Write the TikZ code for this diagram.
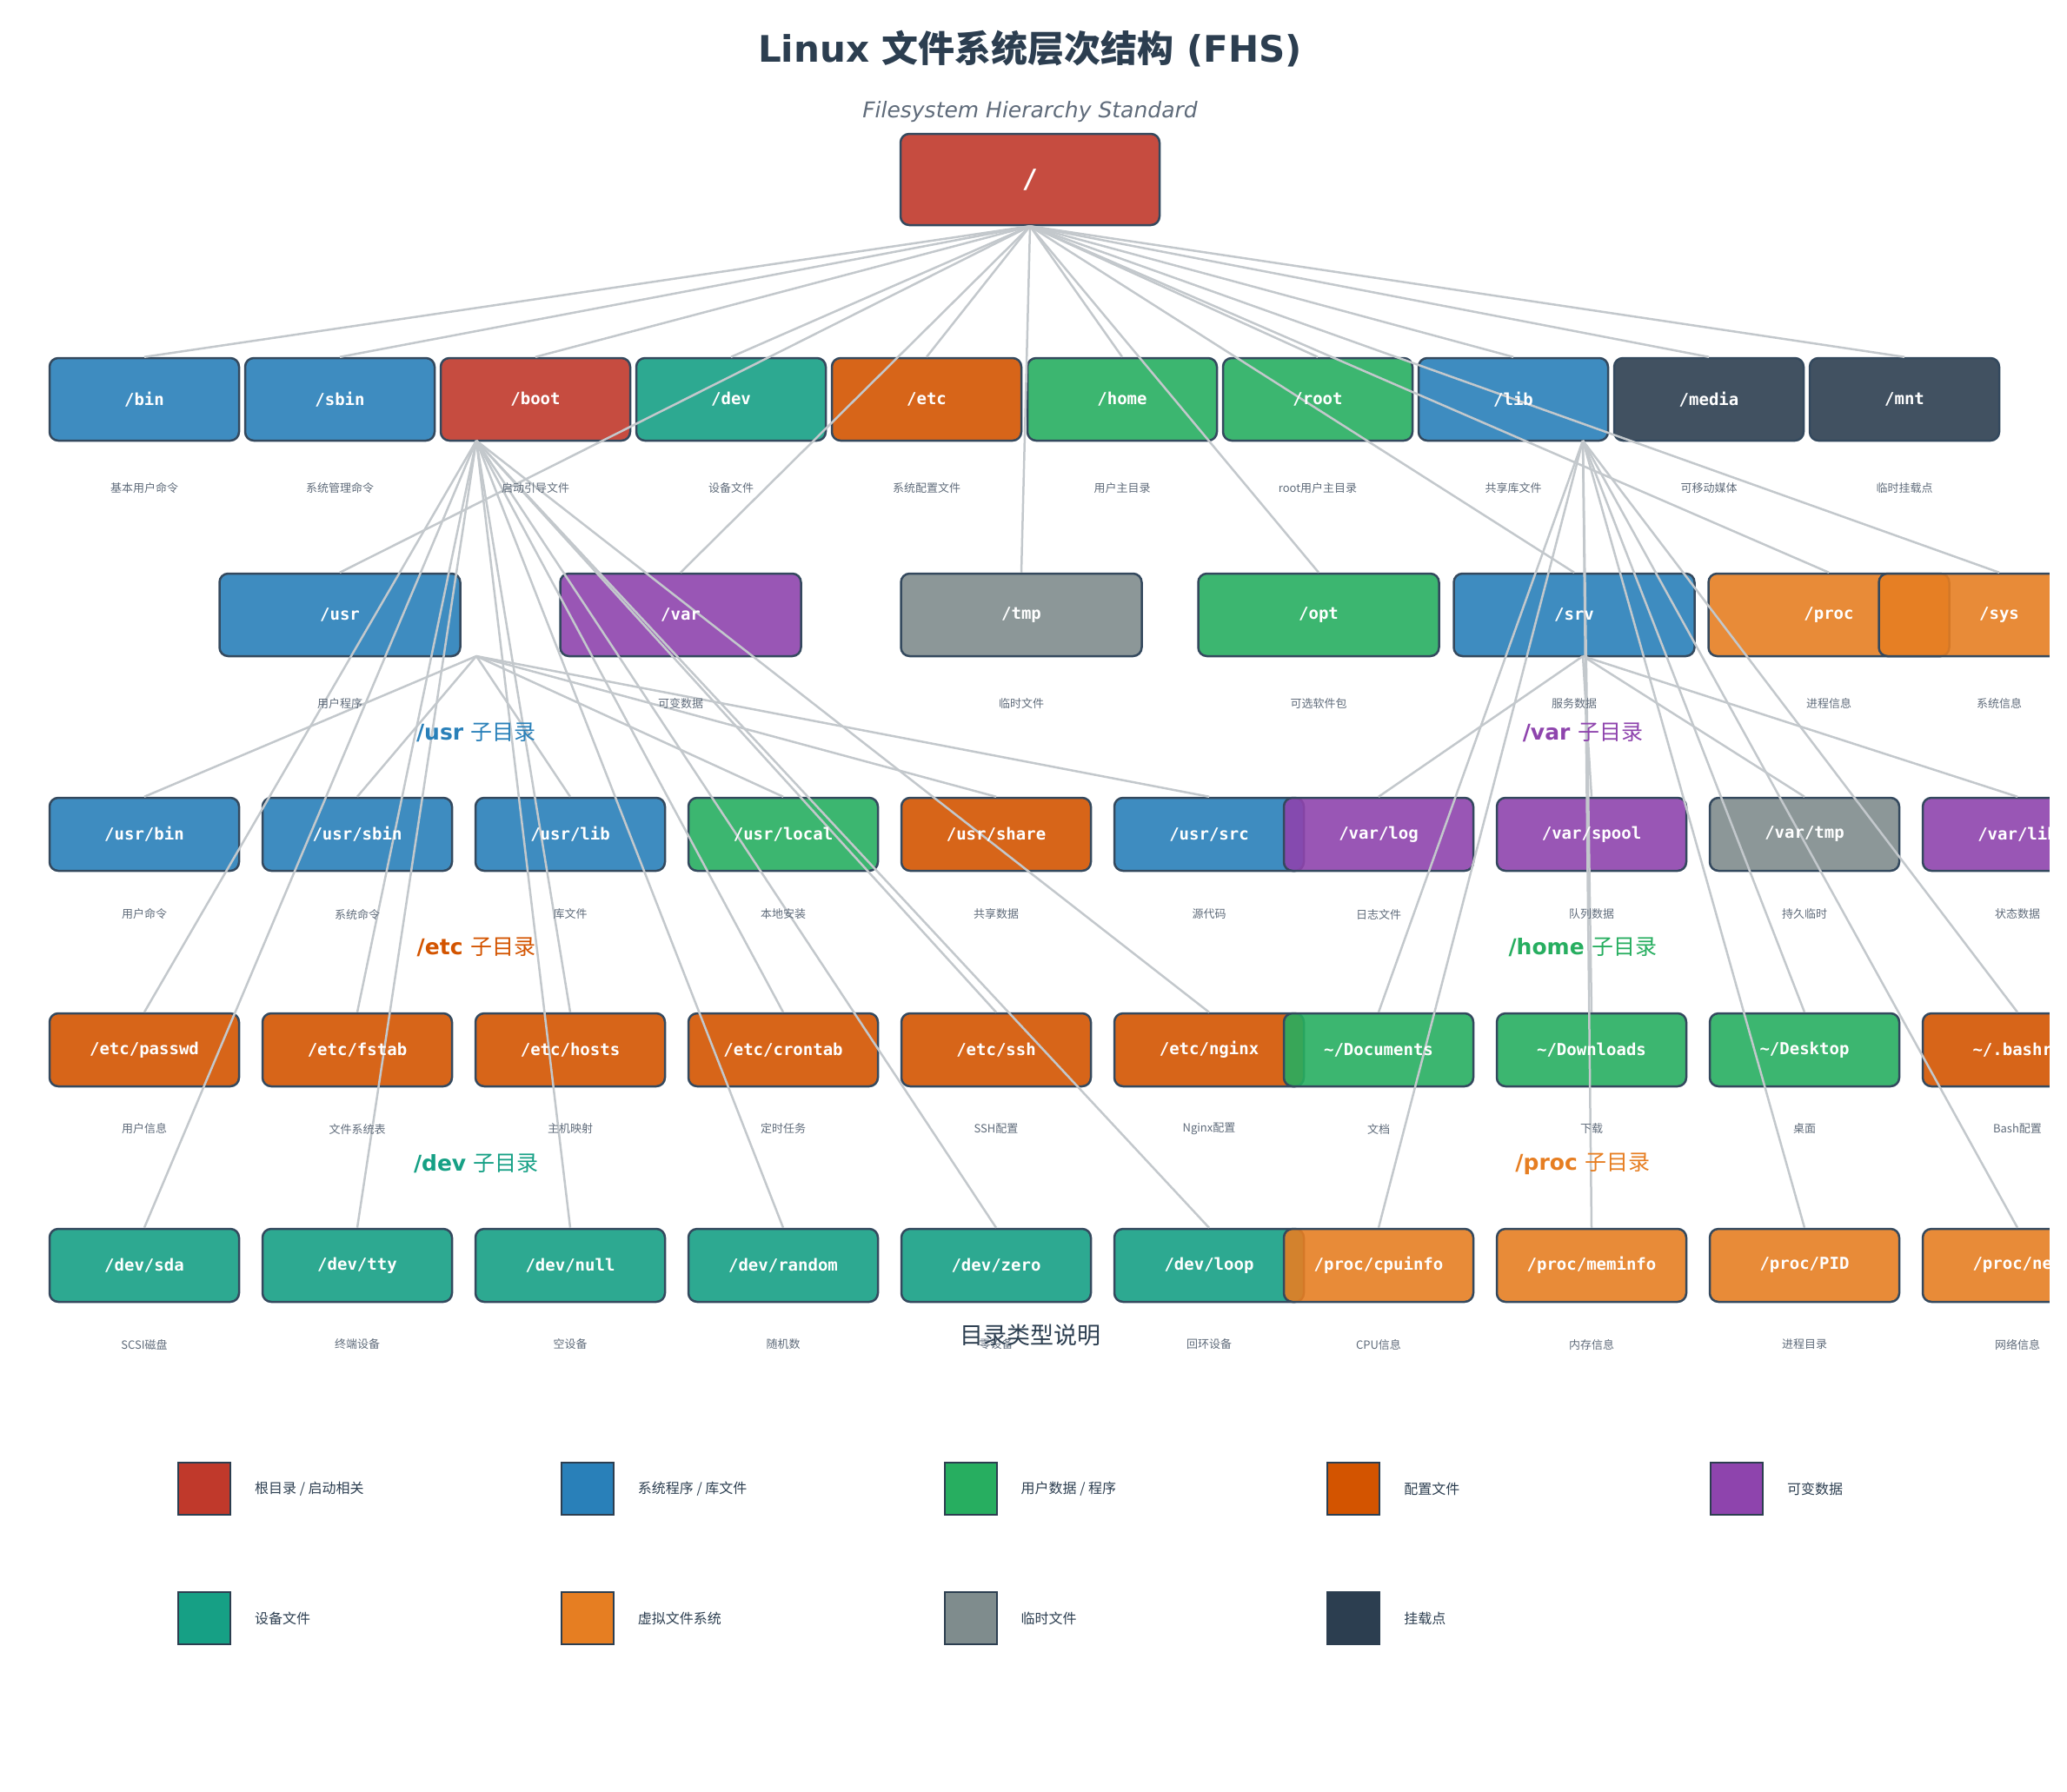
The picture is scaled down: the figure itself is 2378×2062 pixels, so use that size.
\documentclass[tikz,border=0pt]{standalone}
\usepackage{fontspec}
\setmainfont{DejaVu Sans}
\newfontfamily\monofont{DejaVu Sans Mono}
\newfontfamily\cjk{Noto Sans CJK SC}
\definecolor{cRed}{HTML}{C0392B}
\definecolor{cBlue}{HTML}{2980B9}
\definecolor{cGreen}{HTML}{27AE60}
\definecolor{cPump}{HTML}{D35400}
\definecolor{cPurple}{HTML}{8E44AD}
\definecolor{cTeal}{HTML}{16A085}
\definecolor{cOrange}{HTML}{E67E22}
\definecolor{cGray}{HTML}{7F8C8D}
\definecolor{cDark}{HTML}{2C3E50}
\definecolor{cBorder}{HTML}{34495E}
\definecolor{cLine}{HTML}{C3C8CC}
\definecolor{cDesc}{HTML}{5F6B7A}
\pgfdeclarelayer{boxes}
\pgfdeclarelayer{lines}
\pgfsetlayers{boxes,lines,main}
\tikzset{
  fsbox/.style={draw=cBorder, line width=2.5pt, rounded corners=10pt, fill opacity=0.9, inner sep=0pt},
  fstext/.style={text=white, font={\monofont\bfseries\fontsize{19}{22}\selectfont}, inner sep=0pt},
  desc/.style={text=cDesc, font={\cjk\fontsize{13}{15}\selectfont}, inner sep=0pt},
  edge/.style={draw=cLine, line width=2.5pt},
  sect/.style={font={\fontsize{25}{28}\selectfont}, inner sep=0pt},
  swatch/.style={draw=cDark, line width=2pt, minimum width=60pt, minimum height=60pt, inner sep=0pt},
  legtext/.style={anchor=west, text=cDark, font={\cjk\fontsize{16}{18}\selectfont}, inner sep=0pt}
}
\newcommand\fsbox[7]{%
  \begin{pgfonlayer}{boxes}
    \node[fsbox, fill=#6, minimum width=#4, minimum height=#5] (#1) at (#2,#3) {};
  \end{pgfonlayer}
  \node[fstext] (#1-t) at (#2,#3) {#7};}
\begin{document}
\begin{tikzpicture}[x=1pt, y=-1pt]
\useasboundingbox (0,0) rectangle (2378,2062);
% title
\node[anchor=base, text=cDark, font={\bfseries\fontsize{42}{48}\selectfont}, inner sep=0pt] (title) at (1185,71) {Linux {\cjk\bfseries 文件系统层次结构} (FHS)};
\node[anchor=base, text=cDesc, font={\itshape\fontsize{25}{28}\selectfont}, inner sep=0pt] (subtitle) at (1185,135) {Filesystem Hierarchy Standard};
% root
\begin{pgfonlayer}{boxes}
\node[fsbox, fill=cRed, minimum width=298pt, minimum height=105pt] (root) at (1185,206.5) {};
\end{pgfonlayer}
\node[text=white, font={\monofont\bfseries\fontsize{30}{34}\selectfont}, inner sep=0pt] (root-t) at (1185,206.5) {/};
% row 1
\fsbox{bin}{166}{459.5}{218pt}{95pt}{cBlue}{/bin}
\fsbox{sbin}{391}{459.5}{218pt}{95pt}{cBlue}{/sbin}
\fsbox{boot}{616}{459.5}{218pt}{95pt}{cRed}{/boot}
\fsbox{dev}{841}{459.5}{218pt}{95pt}{cTeal}{/dev}
\fsbox{etc}{1066}{459.5}{218pt}{95pt}{cPump}{/etc}
\fsbox{home}{1291}{459.5}{218pt}{95pt}{cGreen}{/home}
\fsbox{rootdir}{1516}{459.5}{218pt}{95pt}{cGreen}{/root}
\fsbox{lib}{1741}{459.5}{218pt}{95pt}{cBlue}{/lib}
\fsbox{media}{1966}{459.5}{218pt}{95pt}{cDark}{/media}
\fsbox{mnt}{2191}{459.5}{218pt}{95pt}{cDark}{/mnt}
% row 2
\fsbox{usr}{391}{707.5}{277pt}{95pt}{cBlue}{/usr}
\fsbox{var}{783}{707.5}{277pt}{95pt}{cPurple}{/var}
\fsbox{tmp}{1175}{707.5}{277pt}{95pt}{cGray}{/tmp}
\fsbox{opt}{1517}{707.5}{277pt}{95pt}{cGreen}{/opt}
\fsbox{srv}{1811}{707.5}{277pt}{95pt}{cBlue}{/srv}
\fsbox{proc}{2104}{707.5}{277pt}{95pt}{cOrange}{/proc}
\fsbox{sys}{2300}{707.5}{277pt}{95pt}{cOrange}{/sys}
% row 3
\fsbox{ubin}{166}{960}{218pt}{84pt}{cBlue}{/usr/bin}
\fsbox{usbin}{411}{960}{218pt}{84pt}{cBlue}{/usr/sbin}
\fsbox{ulib}{656}{960}{218pt}{84pt}{cBlue}{/usr/lib}
\fsbox{ulocal}{901}{960}{218pt}{84pt}{cGreen}{/usr/local}
\fsbox{ushare}{1146}{960}{218pt}{84pt}{cPump}{/usr/share}
\fsbox{usrc}{1391}{960}{218pt}{84pt}{cBlue}{/usr/src}
\fsbox{vlog}{1586}{960}{218pt}{84pt}{cPurple}{/var/log}
\fsbox{vspool}{1831}{960}{218pt}{84pt}{cPurple}{/var/spool}
\fsbox{vtmp}{2076}{960}{218pt}{84pt}{cGray}{/var/tmp}
\fsbox{vlib}{2321}{960}{218pt}{84pt}{cPurple}{/var/lib}
% row 4
\fsbox{epasswd}{166}{1208}{218pt}{84pt}{cPump}{/etc/passwd}
\fsbox{efstab}{411}{1208}{218pt}{84pt}{cPump}{/etc/fstab}
\fsbox{ehosts}{656}{1208}{218pt}{84pt}{cPump}{/etc/hosts}
\fsbox{ecrontab}{901}{1208}{218pt}{84pt}{cPump}{/etc/crontab}
\fsbox{essh}{1146}{1208}{218pt}{84pt}{cPump}{/etc/ssh}
\fsbox{enginx}{1391}{1208}{218pt}{84pt}{cPump}{/etc/nginx}
\fsbox{hdocs}{1586}{1208}{218pt}{84pt}{cGreen}{\textasciitilde/Documents}
\fsbox{hdown}{1831}{1208}{218pt}{84pt}{cGreen}{\textasciitilde/Downloads}
\fsbox{hdesk}{2076}{1208}{218pt}{84pt}{cGreen}{\textasciitilde/Desktop}
\fsbox{hbash}{2321}{1208}{218pt}{84pt}{cPump}{\textasciitilde/.bashrc}
% row 5
\fsbox{dsda}{166}{1456}{218pt}{84pt}{cTeal}{/dev/sda}
\fsbox{dtty}{411}{1456}{218pt}{84pt}{cTeal}{/dev/tty}
\fsbox{dnull}{656}{1456}{218pt}{84pt}{cTeal}{/dev/null}
\fsbox{drandom}{901}{1456}{218pt}{84pt}{cTeal}{/dev/random}
\fsbox{dzero}{1146}{1456}{218pt}{84pt}{cTeal}{/dev/zero}
\fsbox{dloop}{1391}{1456}{218pt}{84pt}{cTeal}{/dev/loop}
\fsbox{pcpu}{1586}{1456}{218pt}{84pt}{cOrange}{/proc/cpuinfo}
\fsbox{pmem}{1831}{1456}{218pt}{84pt}{cOrange}{/proc/meminfo}
\fsbox{ppid}{2076}{1456}{218pt}{84pt}{cOrange}{/proc/PID}
\fsbox{pnet}{2321}{1456}{218pt}{84pt}{cOrange}{/proc/net}
% fan origins
\coordinate (fanUsr) at (548,755);
\coordinate (fanEtc) at (548,507);
\coordinate (fanVar) at (1821,755);
\coordinate (fanHome) at (1821,507);
% connectors
\begin{pgfonlayer}{lines}
\foreach \n in {bin,sbin,boot,dev,etc,home,rootdir,lib,media,mnt,usr,var,tmp,opt,srv,proc,sys}
  \draw[edge] (root.south) -- (\n.north);
\foreach \n in {ubin,usbin,ulib,ulocal,ushare,usrc}
  \draw[edge] (fanUsr) -- (\n.north);
\foreach \n in {epasswd,efstab,ehosts,ecrontab,essh,enginx,dsda,dtty,dnull,drandom,dzero,dloop}
  \draw[edge] (fanEtc) -- (\n.north);
\foreach \n in {vlog,vspool,vtmp,vlib}
  \draw[edge] (fanVar) -- (\n.north);
\foreach \n in {hdocs,hdown,hdesk,hbash,pcpu,pmem,ppid,pnet}
  \draw[edge] (fanHome) -- (\n.north);
\end{pgfonlayer}
% descriptions row 1
\node[desc] (bin-d) at (166,562) {基本用户命令};
\node[desc] (sbin-d) at (391,562) {系统管理命令};
\node[desc] (boot-d) at (616,562) {启动引导文件};
\node[desc] (dev-d) at (841,562) {设备文件};
\node[desc] (etc-d) at (1066,562) {系统配置文件};
\node[desc] (home-d) at (1291,562) {用户主目录};
\node[desc] (rootdir-d) at (1516,562) {root用户主目录};
\node[desc] (lib-d) at (1741,562) {共享库文件};
\node[desc] (media-d) at (1966,562) {可移动媒体};
\node[desc] (mnt-d) at (2191,562) {临时挂载点};
% row 2
\node[desc] (usr-d) at (391,810) {用户程序};
\node[desc] (var-d) at (783,810) {可变数据};
\node[desc] (tmp-d) at (1175,810) {临时文件};
\node[desc] (opt-d) at (1517,810) {可选软件包};
\node[desc] (srv-d) at (1811,810) {服务数据};
\node[desc] (proc-d) at (2104,810) {进程信息};
\node[desc] (sys-d) at (2300,810) {系统信息};
% row 3
\node[desc] (ubin-d) at (166,1052) {用户命令};
\node[desc] (usbin-d) at (411,1052) {系统命令};
\node[desc] (ulib-d) at (656,1052) {库文件};
\node[desc] (ulocal-d) at (901,1052) {本地安装};
\node[desc] (ushare-d) at (1146,1052) {共享数据};
\node[desc] (usrc-d) at (1391,1052) {源代码};
\node[desc] (vlog-d) at (1586,1052) {日志文件};
\node[desc] (vspool-d) at (1831,1052) {队列数据};
\node[desc] (vtmp-d) at (2076,1052) {持久临时};
\node[desc] (vlib-d) at (2321,1052) {状态数据};
% row 4
\node[desc] (epasswd-d) at (166,1299) {用户信息};
\node[desc] (efstab-d) at (411,1299) {文件系统表};
\node[desc] (ehosts-d) at (656,1299) {主机映射};
\node[desc] (ecrontab-d) at (901,1299) {定时任务};
\node[desc] (essh-d) at (1146,1299) {SSH配置};
\node[desc] (enginx-d) at (1391,1299) {Nginx配置};
\node[desc] (hdocs-d) at (1586,1299) {文档};
\node[desc] (hdown-d) at (1831,1299) {下载};
\node[desc] (hdesk-d) at (2076,1299) {桌面};
\node[desc] (hbash-d) at (2321,1299) {Bash配置};
% row 5
\node[desc] (dsda-d) at (166,1547) {SCSI磁盘};
\node[desc] (dtty-d) at (411,1547) {终端设备};
\node[desc] (dnull-d) at (656,1547) {空设备};
\node[desc] (drandom-d) at (901,1547) {随机数};
\node[desc] (dzero-d) at (1146,1547) {零设备};
\node[desc] (dloop-d) at (1391,1547) {回环设备};
\node[desc] (pcpu-d) at (1586,1547) {CPU信息};
\node[desc] (pmem-d) at (1831,1547) {内存信息};
\node[desc] (ppid-d) at (2076,1547) {进程目录};
\node[desc] (pnet-d) at (2321,1547) {网络信息};
% section labels
\node[sect, text=cBlue] (s-usr) at (548,843) {\bfseries /usr {\cjk\mdseries 子目录}};
\node[sect, text=cPurple] (s-var) at (1821,843) {\bfseries /var {\cjk\mdseries 子目录}};
\node[sect, text=cPump] (s-etc) at (548,1090) {\bfseries /etc {\cjk\mdseries 子目录}};
\node[sect, text=cGreen] (s-home) at (1821,1090) {\bfseries /home {\cjk\mdseries 子目录}};
\node[sect, text=cTeal] (s-dev) at (548,1339) {\bfseries /dev {\cjk\mdseries 子目录}};
\node[sect, text=cOrange] (s-proc) at (1821,1339) {\bfseries /proc {\cjk\mdseries 子目录}};
% clip right edge
\fill[white] (2358,0) rectangle (2378,1560);
% legend
\node[text=cDark, font={\cjk\fontsize{27}{30}\selectfont}, inner sep=0pt] (legtitle) at (1185,1536) {目录类型说明};
\node[swatch, fill=cRed] (l1) at (235,1713) {};
\node[legtext] (l1-t) at (293,1713) {根目录 / 启动相关};
\node[swatch, fill=cBlue] (l2) at (675.75,1713) {};
\node[legtext] (l2-t) at (733.75,1713) {系统程序 / 库文件};
\node[swatch, fill=cGreen] (l3) at (1116.5,1713) {};
\node[legtext] (l3-t) at (1174.5,1713) {用户数据 / 程序};
\node[swatch, fill=cPump] (l4) at (1557.25,1713) {};
\node[legtext] (l4-t) at (1615.25,1713) {配置文件};
\node[swatch, fill=cPurple] (l5) at (1998,1713) {};
\node[legtext] (l5-t) at (2056,1713) {可变数据};
\node[swatch, fill=cTeal] (l6) at (235,1862) {};
\node[legtext] (l6-t) at (293,1862) {设备文件};
\node[swatch, fill=cOrange] (l7) at (675.75,1862) {};
\node[legtext] (l7-t) at (733.75,1862) {虚拟文件系统};
\node[swatch, fill=cGray] (l8) at (1116.5,1862) {};
\node[legtext] (l8-t) at (1174.5,1862) {临时文件};
\node[swatch, fill=cDark] (l9) at (1557.25,1862) {};
\node[legtext] (l9-t) at (1615.25,1862) {挂载点};
\end{tikzpicture}
\end{document}
